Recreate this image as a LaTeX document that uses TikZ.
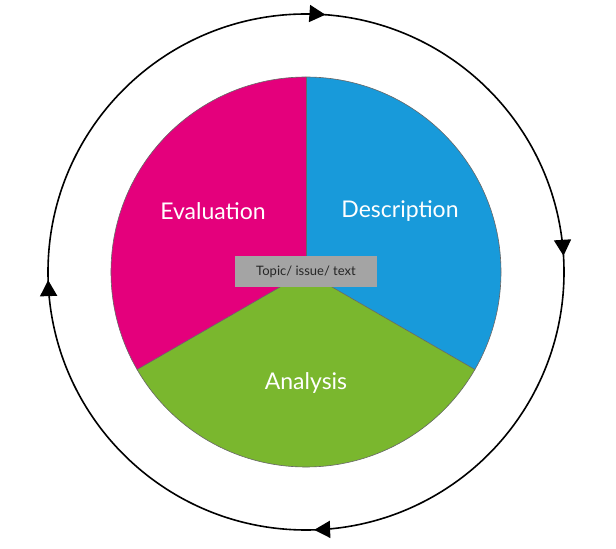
\documentclass[tikz,border=0pt]{standalone}
\usepackage{fontspec}
\setsansfont{Lato}
\usetikzlibrary{decorations.markings,arrows.meta}
\definecolor{evalpink}{RGB}{228,0,124}
\definecolor{descblue}{RGB}{24,154,218}
\definecolor{anagreen}{RGB}{122,183,46}
\definecolor{topicgray}{RGB}{164,164,164}
\begin{document}
\begin{tikzpicture}[x=1pt,y=1pt,font=\sffamily]
        % Styles
        \tikzset{slice/.style={draw=black!60,line width=0.6pt}}
        \tikzset{slice label/.style={text=white,font=\sffamily\fontsize{23}{27}\selectfont}}
        \tikzset{cycle tip/.style={-{Triangle[length=16pt,width=17pt]}}}
        \useasboundingbox (0,0) rectangle (616,549);
        \coordinate (centre) at (306,277);
        %cycle
        \draw[line width=1.6pt,postaction=decorate,decoration={markings,
            mark=at position 0.012 with {\arrow{Triangle[length=16pt,width=17pt]}},
            mark=at position 0.24 with {\arrow{Triangle[length=16pt,width=17pt]}},
            mark=at position 0.495 with {\arrow{Triangle[length=16pt,width=17pt]}},
            mark=at position 0.745 with {\arrow{Triangle[length=16pt,width=17pt]}}}]
            (306,535) arc[start angle=90,end angle=-270,radius=258];
        %pie
        \fill[descblue] (centre) -- (306,472) arc[start angle=90,end angle=-30,radius=195] -- cycle;
        \fill[anagreen] (centre) -- ++(-30:195) arc[start angle=-30,end angle=-150,radius=195] -- cycle;
        \fill[evalpink] (centre) -- ++(-150:195) arc[start angle=-150,end angle=-270,radius=195] -- cycle;
        \draw[slice] (centre) circle[radius=195];
        \draw[slice] (centre) -- ++(90:195);
        \draw[slice] (centre) -- ++(-30:195);
        \draw[slice] (centre) -- ++(-150:195);
        %labels
        \node[slice label] (evaluation) at (213,338) {Evaluation};
        \node[slice label] (description) at (400,338) {Description};
        \node[slice label] (analysis) at (306,166) {Analysis};
        \node[fill=topicgray,text=black!85,minimum width=142pt,minimum height=31pt,
            font=\sffamily\fontsize{13}{15}\selectfont] (topic) at (306,277) {Topic/ issue/ text};
\end{tikzpicture}
\end{document}
